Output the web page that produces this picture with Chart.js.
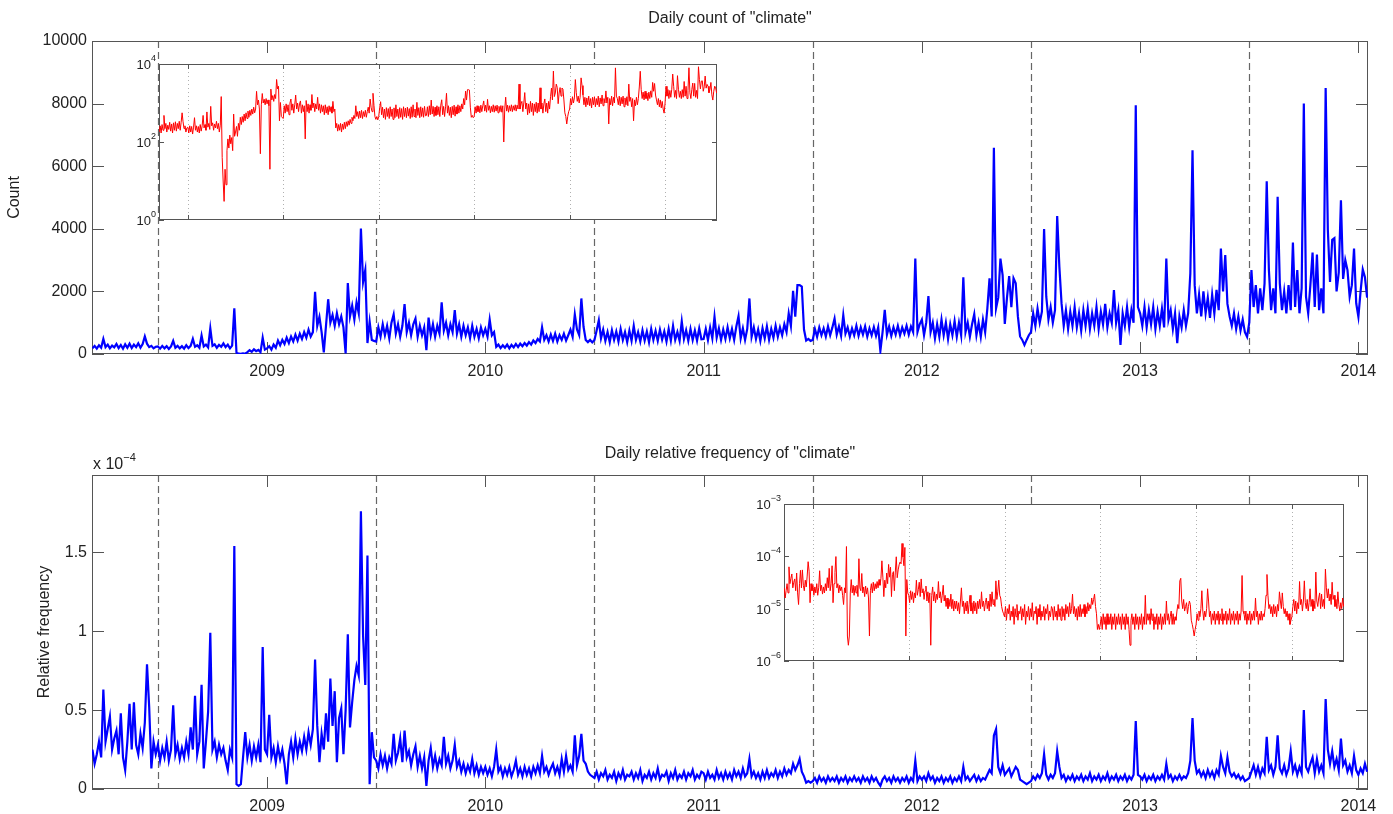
<!DOCTYPE html>
<html>
<head>
<meta charset="utf-8">
<script src="https://cdn.jsdelivr.net/npm/chart.js@4.4.1/dist/chart.umd.min.js"></script>
<style>
  html, body { margin: 0; padding: 0; background: #fff; }
  #page { position: relative; width: 1393px; height: 814px; overflow: hidden;
          font-family: "Liberation Sans", Arial, sans-serif; color: #222; }
  canvas { position: absolute; }
  .title { position: absolute; left: 92px; width: 1276px; text-align: center; font-size: 16px; }
</style>
</head>
<body>
<div id="page">
  <canvas id="countChart" width="1393" height="390" style="left:0;top:0"></canvas>
  <canvas id="countInset" width="625" height="176" style="left:100px;top:54px"></canvas>
  <canvas id="freqChart" width="1393" height="414" style="left:0;top:400px"></canvas>
  <canvas id="freqInset" width="625" height="178" style="left:730px;top:494px"></canvas>
  <div class="title" style="top:9px">Daily count of "climate"</div>
  <div class="title" style="top:444px">Daily relative frequency of "climate"</div>
  <div style="position:absolute;left:93px;top:456px;font-size:16px;line-height:16px">x 10<span style="font-size:11px;position:relative;top:-8px">−4</span></div>
</div>
<script>
// one value every 0.01 year, first at 2008.20, last at 2014.04
const startYear = 2008.2;
const stepYears = 0.01;
const xMin = 2008.198;
const xMax = 2014.044;

const yearTicks = [2009, 2010, 2011, 2012, 2013, 2014];
const midYears = [2008.5, 2009.5, 2010.5, 2011.5, 2012.5, 2013.5];
const countTicks = [0, 2000, 4000, 6000, 8000, 10000];
const freqTicks = [0, 0.5, 1, 1.5];
const countLogTicks = [1, 100, 10000];
const freqLogTicks = [1e-6, 1e-5, 1e-4, 1e-3];

// daily count of "climate" (one line per half year)
const dailyCount = [
  180, 260, 170, 280, 200, 480, 220, 300, 180, 270, 210, 320, 190, 290, 170, 310, 200, 330, 190, 300, 220, 340, 200, 320, 560, 330, 220, 260, 180, 230,
  240, 170, 260, 180, 250, 160, 240, 420, 200, 260, 180, 250, 170, 280, 190, 260, 480, 230, 280, 200, 590, 240, 300, 210, 820, 260, 310, 200, 290, 230,
  340, 220, 300, 180, 270, 1460, 40, 10, 3, 20, 8, 60, 120, 70, 150, 90, 130, 60, 520, 140,
  180, 250, 140, 300, 200, 430, 280, 450, 320, 520, 350, 560, 400, 620, 430, 650, 480, 700, 520, 780, 560, 700, 1990, 900, 1190,
  700, 50, 900, 1750, 1000, 1250, 900, 1300, 950, 1200, 850, 20, 2270, 1200, 1550, 1100, 1650, 1300, 4010, 2300, 2680, 350, 1030, 450, 420,
  400, 850, 550, 950, 600, 900, 500, 1000, 1265, 650, 950, 550, 900, 1595, 700, 1000, 600, 950, 1130, 550, 900, 600, 850, 120, 1160,
  600, 950, 550, 900, 650, 1650, 750, 1000, 600, 950, 700, 1400, 650, 950, 550, 900, 600, 850, 500, 900, 550, 800, 500, 850, 600,
  800, 550, 1100, 600, 700, 230, 300, 190, 280, 200, 300, 180, 290, 210, 320, 220, 330, 250, 350, 270, 380, 300, 430, 350, 480,
  400, 850, 450, 600, 400, 620, 420, 650, 400, 600, 450, 650, 430, 600, 780, 550, 1265, 780, 600, 1775, 870, 450, 380, 450, 370,
  450, 750, 1080, 500, 780, 420, 700, 380, 760, 450, 720, 400, 800, 450, 700, 380, 750, 420, 900, 450, 700, 400, 760, 430, 720,
  380, 800, 450, 740, 420, 780, 460, 720, 400, 800, 430, 900, 450, 700, 420, 1040, 480, 760, 420, 800, 450, 750, 430, 820, 470,
  480, 800, 450, 850, 500, 1190, 520, 820, 450, 780, 480, 850, 500, 800, 450, 880, 1210, 500, 820, 450, 800, 1775, 550, 850, 480,
  780, 420, 820, 500, 880, 460, 800, 520, 900, 550, 850, 600, 950, 700, 1300, 900, 2020, 1190, 2200, 2200, 2150, 780, 430, 480, 420,
  450, 800, 550, 850, 600, 820, 560, 880, 600, 850, 1130, 620, 880, 580, 1240, 650, 850, 560, 820, 600, 900, 580, 850, 620, 880,
  560, 820, 600, 860, 580, 850, 100, 700, 1410, 620, 880, 580, 850, 620, 900, 600, 850, 650, 900, 620, 880, 700, 3050, 700, 950,
  1100, 600, 1000, 1850, 700, 1000, 500, 950, 550, 1100, 600, 1000, 480, 950, 600, 1050, 550, 1000, 600, 2450, 700, 1000, 550, 950, 1270,
  600, 1000, 550, 1100, 700, 1450, 2420, 1200, 6590, 1460, 1800, 3050, 2520, 960, 1800, 2490, 1500, 2420, 2260, 1200, 560, 450, 290, 450, 600,
  700, 1300, 900, 1450, 1000, 1350, 3990, 1830, 1100, 1500, 1000, 1400, 4410, 2790, 1617, 900, 1400, 800, 1350, 900, 1500, 850, 1300, 750, 1400,
  900, 1450, 800, 1300, 900, 1500, 800, 1350, 950, 1600, 850, 1300, 1000, 2040, 1000, 1400, 290, 1300, 900, 1500, 850, 1400, 1000, 7950, 1500,
  1300, 900, 1500, 850, 1400, 950, 1500, 800, 1350, 900, 1450, 850, 3050, 1100, 1400, 800, 1300, 350, 1200, 850, 1400, 900, 1300, 2574, 6510,
  2200, 1300, 1900, 1200, 2000, 1300, 1800, 1150, 1900, 1300, 2050, 1400, 3370, 2000, 3160, 1600, 1200, 900, 1300, 800, 1200, 750, 1100, 700, 550,
  1000, 2680, 1500, 2200, 1300, 2100, 1400, 2250, 5520, 2680, 1400, 2100, 1300, 5020, 2250, 1400, 2000, 1300, 2200, 1400, 3560, 1500, 2680, 1300, 2100,
  8000, 1830, 1300, 2200, 3240, 1500, 3180, 1400, 2100, 1300, 8500, 3960, 2300, 3650, 3700, 2000, 2600, 4910, 2400, 3000, 2680, 1830, 2200, 3370, 1620,
  1190, 2000, 2700, 2450, 1800
];

// daily relative frequency of "climate", in units of 1e-4 (one line per half year)
const relFreq = [
  0.25, 0.16, 0.22, 0.30, 0.20, 0.63, 0.30, 0.38, 0.46, 0.25, 0.32, 0.37, 0.22, 0.48, 0.20, 0.12, 0.30, 0.54, 0.25, 0.55, 0.28, 0.22, 0.35, 0.26, 0.42, 0.79, 0.52, 0.13, 0.30, 0.22,
  0.28, 0.18, 0.26, 0.20, 0.30, 0.18, 0.25, 0.53, 0.22, 0.28, 0.19, 0.26, 0.20, 0.30, 0.22, 0.39, 0.25, 0.59, 0.22, 0.30, 0.66, 0.13, 0.30, 0.49, 0.99,
  0.25, 0.30, 0.20, 0.28, 0.22, 0.26, 0.18, 0.12, 0.25, 0.20, 1.54, 0.03, 0.02, 0.03, 0.20, 0.36, 0.20, 0.28, 0.18, 0.27, 0.20, 0.28, 0.17, 0.90, 0.25,
  0.22, 0.47, 0.20, 0.26, 0.17, 0.27, 0.19, 0.25, 0.16, 0.03, 0.22, 0.30, 0.20, 0.32, 0.22, 0.30, 0.24, 0.33, 0.25, 0.36, 0.28, 0.38, 0.82, 0.40, 0.17,
  0.35, 0.25, 0.48, 0.30, 0.70, 0.40, 0.62, 0.17, 0.45, 0.51, 0.22, 0.50, 0.98, 0.39, 0.55, 0.69, 0.78, 0.72, 1.76, 0.97, 0.66, 1.48, 0.03, 0.36, 0.20,
  0.18, 0.13, 0.22, 0.15, 0.21, 0.13, 0.20, 0.16, 0.35, 0.18, 0.23, 0.32, 0.17, 0.37, 0.20, 0.24, 0.15, 0.22, 0.27, 0.14, 0.21, 0.13, 0.20, 0.02, 0.18,
  0.26, 0.14, 0.21, 0.13, 0.19, 0.15, 0.33, 0.16, 0.21, 0.13, 0.18, 0.28, 0.14, 0.18, 0.11, 0.16, 0.10, 0.15, 0.11, 0.19, 0.10, 0.15, 0.09, 0.14, 0.10,
  0.14, 0.09, 0.13, 0.08, 0.14, 0.25, 0.11, 0.14, 0.08, 0.13, 0.09, 0.14, 0.08, 0.12, 0.18, 0.09, 0.13, 0.08, 0.14, 0.09, 0.13, 0.08, 0.14, 0.10, 0.15,
  0.10, 0.21, 0.11, 0.14, 0.09, 0.13, 0.16, 0.10, 0.14, 0.09, 0.19, 0.11, 0.21, 0.12, 0.15, 0.11, 0.34, 0.15, 0.21, 0.35, 0.18, 0.16, 0.11, 0.09, 0.08,
  0.07, 0.11, 0.06, 0.10, 0.08, 0.12, 0.06, 0.09, 0.07, 0.11, 0.05, 0.10, 0.07, 0.12, 0.06, 0.09, 0.08, 0.11, 0.06, 0.10, 0.07, 0.12, 0.05, 0.09, 0.07,
  0.11, 0.06, 0.10, 0.07, 0.13, 0.06, 0.09, 0.08, 0.11, 0.05, 0.10, 0.07, 0.12, 0.06, 0.09, 0.07, 0.11, 0.06, 0.10, 0.08, 0.12, 0.06, 0.09, 0.07, 0.11,
  0.10, 0.06, 0.11, 0.07, 0.09, 0.06, 0.12, 0.07, 0.10, 0.06, 0.11, 0.07, 0.10, 0.06, 0.12, 0.08, 0.11, 0.07, 0.13, 0.08, 0.10, 0.19, 0.08, 0.11, 0.07,
  0.10, 0.06, 0.11, 0.07, 0.12, 0.07, 0.10, 0.08, 0.12, 0.07, 0.11, 0.08, 0.13, 0.09, 0.12, 0.10, 0.16, 0.12, 0.15, 0.19, 0.11, 0.08, 0.04, 0.05, 0.04,
  0.05, 0.07, 0.04, 0.08, 0.05, 0.07, 0.04, 0.08, 0.05, 0.07, 0.05, 0.08, 0.04, 0.07, 0.05, 0.08, 0.04, 0.07, 0.05, 0.08, 0.05, 0.07, 0.04, 0.08, 0.05,
  0.07, 0.04, 0.08, 0.05, 0.07, 0.04, 0.02, 0.06, 0.08, 0.05, 0.07, 0.04, 0.08, 0.05, 0.07, 0.04, 0.07, 0.05, 0.08, 0.04, 0.07, 0.05, 0.18, 0.05, 0.08,
  0.06, 0.08, 0.05, 0.10, 0.06, 0.08, 0.04, 0.07, 0.05, 0.08, 0.04, 0.07, 0.05, 0.08, 0.04, 0.07, 0.05, 0.08, 0.05, 0.14, 0.06, 0.08, 0.05, 0.07, 0.09,
  0.05, 0.08, 0.05, 0.07, 0.06, 0.09, 0.12, 0.10, 0.34, 0.38, 0.14, 0.10, 0.15, 0.09, 0.11, 0.13, 0.08, 0.11, 0.14, 0.12, 0.06, 0.05, 0.04, 0.03, 0.04,
  0.05, 0.08, 0.06, 0.09, 0.07, 0.10, 0.22, 0.09, 0.06, 0.09, 0.07, 0.10, 0.24, 0.14, 0.07, 0.09, 0.05, 0.08, 0.06, 0.09, 0.05, 0.08, 0.06, 0.09, 0.05,
  0.08, 0.06, 0.10, 0.05, 0.08, 0.06, 0.09, 0.05, 0.08, 0.06, 0.10, 0.05, 0.08, 0.06, 0.09, 0.05, 0.08, 0.06, 0.09, 0.05, 0.08, 0.06, 0.09, 0.43, 0.09,
  0.08, 0.06, 0.09, 0.05, 0.08, 0.06, 0.09, 0.05, 0.08, 0.06, 0.09, 0.06, 0.16, 0.07, 0.09, 0.05, 0.08, 0.06, 0.09, 0.06, 0.08, 0.07, 0.10, 0.18, 0.45,
  0.18, 0.10, 0.12, 0.08, 0.11, 0.07, 0.12, 0.08, 0.11, 0.07, 0.12, 0.09, 0.21, 0.14, 0.10, 0.20, 0.11, 0.08, 0.10, 0.07, 0.09, 0.06, 0.08, 0.05, 0.06,
  0.07, 0.11, 0.15, 0.09, 0.14, 0.08, 0.13, 0.10, 0.33, 0.12, 0.15, 0.09, 0.14, 0.34, 0.13, 0.10, 0.15, 0.09, 0.13, 0.24, 0.11, 0.15, 0.09, 0.14, 0.10,
  0.50, 0.14, 0.11, 0.16, 0.20, 0.10, 0.19, 0.11, 0.15, 0.10, 0.57, 0.25, 0.16, 0.24, 0.14, 0.19, 0.12, 0.32, 0.15, 0.18, 0.11, 0.15, 0.10, 0.21, 0.12,
  0.09, 0.13, 0.10, 0.16, 0.11
];

const FONT = '"Liberation Sans", Arial, sans-serif';
const TEXT = '#222';

function toPoints(values, factor) {
  return values.map((v, i) => ({ x: +(startYear + i * stepYears).toFixed(2), y: v * factor }));
}

// MATLAB-like box: frame, inward ticks on all sides, reference lines, log tick labels
const matlabAxes = {
  id: 'matlabAxes',
  beforeDraw(chart, args, o) {
    if (!o.fill) return;
    const { ctx, chartArea: a } = chart;
    ctx.save();
    ctx.fillStyle = o.fill;
    ctx.fillRect(a.left, a.top, a.width, a.height);
    ctx.restore();
  },
  beforeDatasetsDraw(chart, args, o) {
    const { ctx, chartArea: a, scales: { x, y } } = chart;
    ctx.save();
    ctx.strokeStyle = o.lineColor;
    ctx.lineWidth = o.lineWidth;
    ctx.setLineDash(o.dash);
    o.lines.forEach(v => {
      const px = Math.round(x.getPixelForValue(v)) + 0.5;
      ctx.beginPath();
      ctx.moveTo(px, a.top);
      ctx.lineTo(px, a.bottom);
      ctx.stroke();
    });
    ctx.setLineDash([]);
    ctx.strokeStyle = '#555';
    ctx.lineWidth = 1;
    ctx.strokeRect(a.left + 0.5, a.top + 0.5, a.width - 1, a.height - 1);
    ctx.beginPath();
    x.ticks.forEach(t => {
      const px = Math.round(x.getPixelForValue(t.value)) + 0.5;
      ctx.moveTo(px, a.bottom); ctx.lineTo(px, a.bottom - o.tickLen);
      ctx.moveTo(px, a.top); ctx.lineTo(px, a.top + o.tickLen);
    });
    y.ticks.forEach(t => {
      const py = Math.round(y.getPixelForValue(t.value)) + 0.5;
      ctx.moveTo(a.left, py); ctx.lineTo(a.left + o.tickLen, py);
      ctx.moveTo(a.right, py); ctx.lineTo(a.right - o.tickLen, py);
    });
    ctx.stroke();
    ctx.restore();
  },
  afterDraw(chart, args, o) {
    if (!o.logLabels) return;
    const { ctx, chartArea: a, scales: { y } } = chart;
    ctx.save();
    ctx.fillStyle = TEXT;
    ctx.textBaseline = 'alphabetic';
    y.ticks.forEach(t => {
      const py = y.getPixelForValue(t.value);
      const e = Math.round(Math.log10(t.value));
      const exp = e < 0 ? '\u2212' + Math.abs(e) : String(e);
      ctx.font = '9px ' + FONT;
      const w2 = ctx.measureText(exp).width;
      ctx.font = '13px ' + FONT;
      const w1 = ctx.measureText('10').width;
      const right = a.left - 3;
      ctx.fillText('10', right - w2 - w1, py + 5);
      ctx.font = '9px ' + FONT;
      ctx.fillText(exp, right - w2, py - 3);
    });
    ctx.restore();
  }
};

function fixedTicks(values) {
  return scale => { scale.ticks = values.map(v => ({ value: v })); };
}

function mainChart(id, values, factor, yMax, yTicks, pad, yWidth, xHeight, yTitle) {
  return new Chart(document.getElementById(id), {
    type: 'line',
    data: {
      datasets: [{
        data: toPoints(values, factor),
        borderColor: '#0000ff',
        borderWidth: 2.2,
        pointRadius: 0,
        tension: 0
      }]
    },
    options: {
      responsive: false,
      animation: false,
      events: [],
      layout: { padding: pad },
      scales: {
        x: {
          type: 'linear', min: xMin, max: xMax,
          afterBuildTicks: fixedTicks(yearTicks),
          afterFit: s => { s.height = xHeight; },
          grid: { display: false, drawTicks: false },
          border: { display: false },
          ticks: { font: { family: FONT, size: 16 }, color: TEXT, padding: 8,
                   maxRotation: 0, autoSkip: false, callback: v => String(v) }
        },
        y: {
          type: 'linear', min: 0, max: yMax,
          afterBuildTicks: fixedTicks(yTicks),
          afterFit: s => { s.width = yWidth; },
          grid: { display: false, drawTicks: false },
          border: { display: false },
          title: { display: true, text: yTitle, font: { family: FONT, size: 16 }, color: TEXT,
                   padding: { top: 5, bottom: 0 } },
          ticks: { font: { family: FONT, size: 16 }, color: TEXT, padding: 5,
                   autoSkip: false, callback: v => String(v) }
        }
      },
      plugins: {
        legend: { display: false },
        tooltip: { enabled: false },
        matlabAxes: { lines: midYears, lineColor: '#666', lineWidth: 1.2, dash: [7, 4], tickLen: 12 }
      }
    },
    plugins: [matlabAxes]
  });
}

function insetChart(id, values, factor, yMin, yMax, yTicks, pad, yWidth, xHeight) {
  return new Chart(document.getElementById(id), {
    type: 'line',
    data: {
      datasets: [{
        data: toPoints(values, factor),
        borderColor: '#ff0000',
        borderWidth: 1,
        pointRadius: 0,
        tension: 0
      }]
    },
    options: {
      responsive: false,
      animation: false,
      events: [],
      layout: { padding: pad },
      scales: {
        x: {
          type: 'linear', min: xMin, max: xMax,
          afterBuildTicks: fixedTicks(midYears),
          afterFit: s => { s.height = xHeight; },
          grid: { display: false, drawTicks: false },
          border: { display: false },
          ticks: { display: false }
        },
        y: {
          type: 'logarithmic', min: yMin, max: yMax,
          afterBuildTicks: fixedTicks(yTicks),
          afterFit: s => { s.width = yWidth; },
          grid: { display: false, drawTicks: false },
          border: { display: false },
          ticks: { display: false }
        }
      },
      plugins: {
        legend: { display: false },
        tooltip: { enabled: false },
        matlabAxes: { fill: '#fff', lines: midYears, lineColor: '#b0b0b0', lineWidth: 1, dash: [1, 3],
                      tickLen: 5, logLabels: true }
      }
    },
    plugins: [matlabAxes]
  });
}

mainChart('countChart', dailyCount, 1, 10000, countTicks,
  { left: 0, top: 41, right: 25, bottom: 0 }, 92, 36, 'Count');
insetChart('countInset', dailyCount, 1, 1, 10000, countLogTicks,
  { left: 0, top: 10, right: 8, bottom: 0 }, 59, 10);
mainChart('freqChart', relFreq, 1, 1.99, freqTicks,
  { left: 30, top: 75, right: 25, bottom: 0 }, 62, 25, 'Relative frequency');
insetChart('freqInset', relFreq, 1e-4, 1e-6, 1e-3, freqLogTicks,
  { left: 0, top: 10, right: 11, bottom: 0 }, 54, 11);
</script>
</body>
</html>
